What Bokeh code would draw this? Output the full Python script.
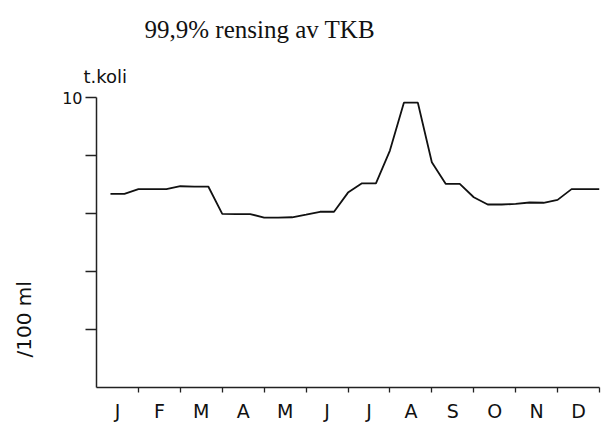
from bokeh.plotting import figure
from bokeh.models import FixedTicker, Range1d, Title
from bokeh.embed import file_html
from bokeh.resources import INLINE

# --- data ---
months = ["J", "F", "M", "A", "M", "J", "J", "A", "S", "O", "N", "D"]
# 36 ten-day periods (tredjedels måned), value in thousand coli / 100 ml
periods = list(range(1, 37))
tkoli = [6.68, 6.68, 6.84, 6.84, 6.84, 6.94, 6.93, 6.93, 5.99, 5.98, 5.98, 5.86,
         5.86, 5.87, 5.96, 6.06, 6.06, 6.72, 7.04, 7.04, 8.17, 9.82, 9.82, 7.77,
         7.02, 7.02, 6.56, 6.31, 6.31, 6.33, 6.38, 6.37, 6.47, 6.84, 6.84, 6.84]
y_ticks = [2, 4, 6, 8, 10]
y_tick_labels = {2: "", 4: "", 6: "", 8: "", 10: "10"}

x_month = [p / 3 for p in periods]

p = figure(width=602, height=440, output_backend="svg", toolbar_location=None,
           x_range=Range1d(0, 12), y_range=Range1d(0, 10),
           min_border_left=96, min_border_right=3, min_border_top=97,
           min_border_bottom=53)
p.outline_line_color = None
p.xgrid.visible = False
p.ygrid.visible = False
p.background_fill_color = "white"
p.border_fill_color = "white"

p.line(x_month, tkoli, line_color="#111111", line_width=1.8)

# x axis: ticks at month boundaries, labels at month centres
xa = p.xaxis[0]
xa.ticker = FixedTicker(ticks=[i + 0.5 for i in range(12)],
                        minor_ticks=[i + 1 for i in range(12)])
xa.major_label_overrides = {i + 0.5: m for i, m in enumerate(months)}
xa.major_tick_out = 0
xa.major_tick_in = 0
xa.minor_tick_out = 5
xa.minor_tick_in = 0
xa.minor_tick_line_color = "#222222"
xa.minor_tick_line_width = 1.3
xa.axis_line_color = "#222222"
xa.axis_line_width = 1.5
xa.major_label_standoff = 7
xa.major_label_text_font = "DejaVu Sans"
xa.major_label_text_font_size = "19px"
xa.major_label_text_color = "#111111"

ya = p.yaxis[0]
ya.ticker = FixedTicker(ticks=y_ticks, minor_ticks=[])
ya.major_label_overrides = y_tick_labels
ya.major_tick_out = 11
ya.major_tick_in = 0
ya.major_tick_line_color = "#222222"
ya.major_tick_line_width = 1.3
ya.axis_line_color = "#222222"
ya.axis_line_width = 1.5
ya.major_label_standoff = 3
ya.major_label_text_font = "DejaVu Sans"
ya.major_label_text_font_size = "16px"
ya.major_label_text_color = "#111111"

# main title (outermost)
p.title = Title(text="99,9% rensing av TKB", align="left", offset=48,
                standoff=22, text_font="Liberation Serif",
                text_font_size="25px", text_font_style="normal",
                text_color="#111111")
# unit label just above the axis (closest to the frame)
p.add_layout(Title(text="t.koli", align="left", offset=-13, standoff=21,
                   text_font="DejaVu Sans", text_font_size="18px",
                   text_font_style="normal", text_color="#111111"), "above")
# vertical unit label on the left; the empty second line keeps it away from the axis
p.add_layout(Title(text="/100 ml\n ", align="left", offset=30, standoff=0,
                   text_font="DejaVu Sans", text_font_size="20px",
                   text_font_style="normal", text_color="#111111"), "left")

open("out.html", "w").write(file_html(p, INLINE))
